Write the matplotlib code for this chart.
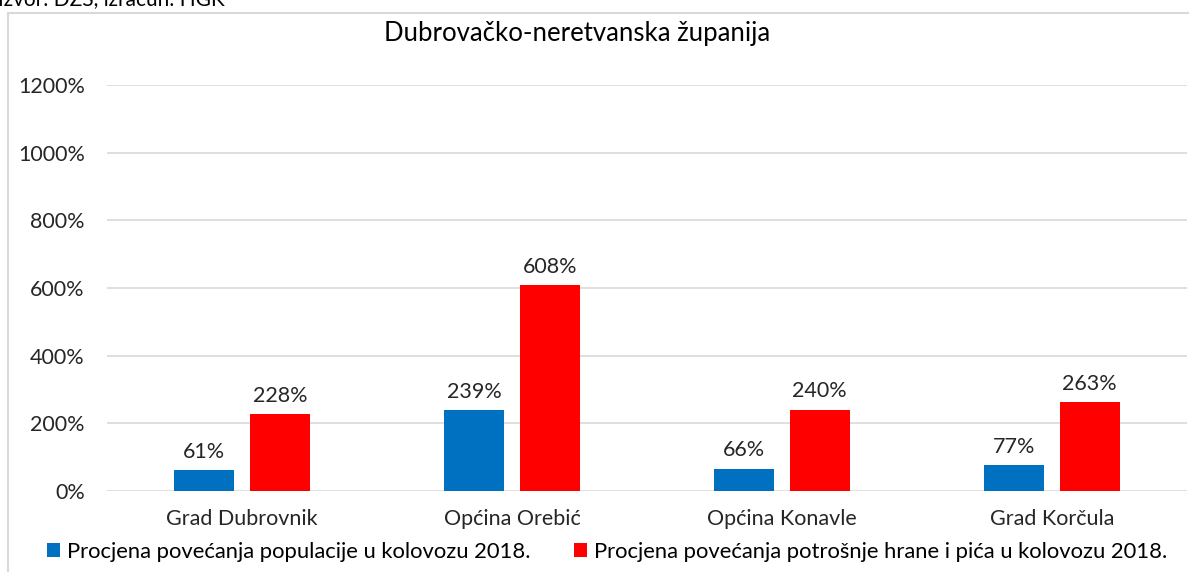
import matplotlib.pyplot as plt
import numpy as np
from matplotlib.patches import Rectangle
from matplotlib.ticker import FuncFormatter

plt.rcParams['font.family'] = ['Lato', 'DejaVu Sans']

categories = ['Grad Dubrovnik', 'Općina Orebić', 'Općina Konavle', 'Grad Korčula']
populacija = [61, 239, 66, 77]
potrosnja = [228, 608, 240, 263]
labels = ['Procjena povećanja populacije u kolovozu 2018.',
          'Procjena povećanja potrošnje hrane i pića u kolovozu 2018.']

W, H = 1189, 572
fig = plt.figure(figsize=(W / 100, H / 100), dpi=100)
ax = fig.add_axes([107 / W, 1 - 491 / H, 1080 / W, (491 - 85) / H])

x = np.arange(len(categories))
bw = 0.222
b1 = ax.bar(x - 0.14, populacija, bw, color='#0070C0', label=labels[0], zorder=3)
b2 = ax.bar(x + 0.14, potrosnja, bw, color='#FF0000', label=labels[1], zorder=3)

for bars, vals in ((b1, populacija), (b2, potrosnja)):
    for b, v in zip(bars, vals):
        ax.annotate(f'{v}%', (b.get_x() + b.get_width() / 2, v), xytext=(0, 6),
                    textcoords='offset points', ha='center', va='bottom',
                    fontsize=15.5, color='#262626')

ax.set_xlim(-0.5, 3.5)
ax.set_ylim(0, 1200)
ax.set_yticks(range(0, 1201, 200))
ax.yaxis.set_major_formatter(FuncFormatter(lambda v, p: f'{v:.0f}%'))
ax.set_xticks(x)
ax.set_xticklabels(categories)
ax.tick_params(axis='both', length=0, labelsize=15.5, colors='#262626')
ax.tick_params(axis='x', pad=13)
ax.tick_params(axis='y', pad=16)
ax.grid(axis='y', color='#d9d9d9', linewidth=1.2, zorder=0)
for s in ax.spines.values():
    s.set_visible(False)

fig.text(577 / W, 1 - 33 / H, 'Dubrovačko-neretvanska županija', ha='center', va='center',
         fontsize=18.5, color='#000000')
fig.text(-2 / W, 1 - 5 / H, 'Izvor: DZS, izračun: HGK', ha='left', va='baseline',
         fontsize=15, color='#000000')

fig.patches.append(Rectangle((8 / W, -0.1), 1.2, 1.1 - 13 / H, transform=fig.transFigure,
                             fill=False, edgecolor='#d9d9d9', linewidth=1.5))

fig.legend(handles=[b1, b2], loc='center', bbox_to_anchor=(607 / W, 1 - 552 / H), ncol=2,
           frameon=False, fontsize=15.8, handlelength=0.6, handleheight=0.6,
           handletextpad=0.3, columnspacing=2.0)

fig.savefig('out.png', dpi=100)
